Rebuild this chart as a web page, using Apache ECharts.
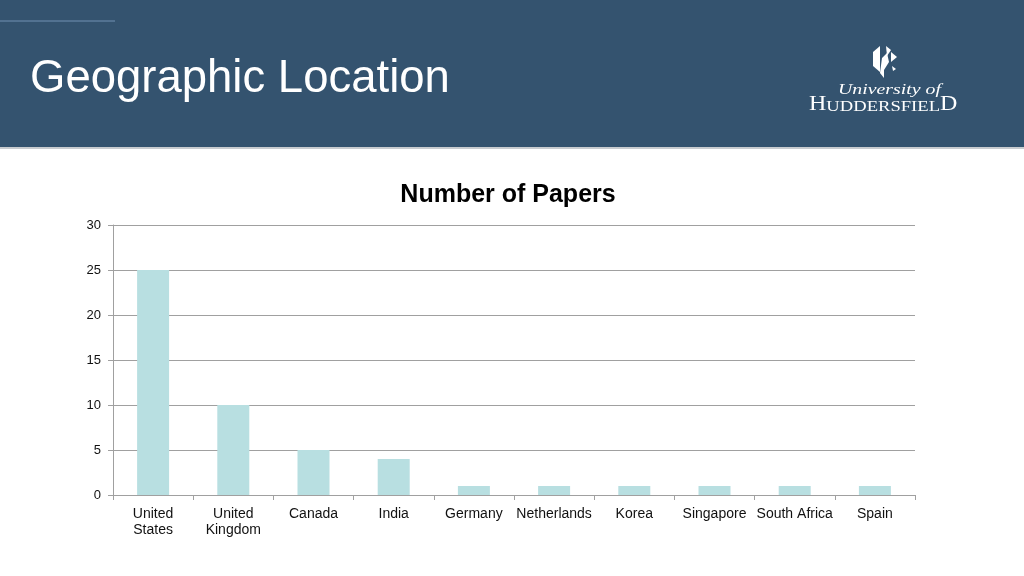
<!DOCTYPE html>
<html><head><meta charset="utf-8">
<script src="https://cdn.jsdelivr.net/npm/echarts@6/dist/echarts.min.js"></script>
<style>html,body{margin:0;padding:0;background:#fff}#c{width:1024px;height:576px}</style>
</head><body><div id="c"></div>
<script>
const categories = ['United\nStates','United\nKingdom','Canada','India','Germany','Netherlands','Korea','Singapore','South Africa','Spain'];
const papers = [25, 10, 5, 4, 1, 1, 1, 1, 1, 1];
const yTicks = [0, 5, 10, 15, 20, 25, 30];

const chart = echarts.init(document.getElementById('c'));
chart.setOption({
  animation: false,
  backgroundColor: '#ffffff',
  textStyle: { fontFamily: 'Liberation Sans, Arial, sans-serif' },
  title: {
    text: 'Number of Papers', left: 503, top: 178, textAlign: 'center',
    textStyle: { fontSize: 25, fontWeight: 'bold', color: '#000', fontFamily: 'Liberation Sans, Arial, sans-serif' }
  },
  graphic: [
    { type: 'rect', shape: { x: 0, y: 0, width: 1024, height: 147 }, style: { fill: '#34536f' }, z: -10 },
    { type: 'rect', shape: { x: 0, y: 147, width: 1024, height: 2 }, style: { fill: '#c8ccd0' }, z: -10 },
    { type: 'line', shape: { x1: 0, y1: 21, x2: 115, y2: 21 }, style: { stroke: '#7191b3', lineWidth: 1 } },
    { type: 'text', left: 30, top: 56, style: { text: 'Geographic Location', fill: '#ffffff', fontSize: 45.5, fontFamily: 'Liberation Sans, Arial, sans-serif' } },
    // logo icon
    { type: 'polygon', shape: { points: [[873,52],[880,46],[880,72],[873,66]] }, style: { fill: '#ffffff' } },
    { type: 'polygon', shape: { points: [[882,58],[887,53],[889,62],[884,70],[884,78],[880,73]] }, style: { fill: '#ffffff' } },
    { type: 'polygon', shape: { points: [[886,46],[891,50],[887,56]] }, style: { fill: '#ffffff' } },
    { type: 'polygon', shape: { points: [[891,52],[897,57],[891,62]] }, style: { fill: '#ffffff' } },
    { type: 'polygon', shape: { points: [[892,66],[896,69],[893,71]] }, style: { fill: '#ffffff' } },
    { type: 'text', x: 838, y: 82, scaleX: 1.28, style: { text: 'University of', fill: '#ffffff', fontSize: 15.5, fontStyle: 'italic', fontFamily: 'Liberation Serif, DejaVu Serif, serif' } },
    { type: 'text', x: 809, y: 95, scaleX: 1.2, style: { rich: { a: { fontSize: 20, fill: '#ffffff', fontFamily: 'Liberation Serif, serif', verticalAlign: 'bottom' }, b: { fontSize: 15.5, fill: '#ffffff', fontFamily: 'Liberation Serif, serif', verticalAlign: 'bottom' } }, text: '{a|H}{b|UDDERSFIEL}{a|D}' } }
  ],
  grid: { left: 113, right: 109, top: 225, bottom: 81, containLabel: false },
  xAxis: {
    type: 'category', data: categories,
    axisLine: { lineStyle: { color: '#a0a0a0', width: 1 } },
    axisTick: { show: true, alignWithLabel: false, length: 5, lineStyle: { color: '#a0a0a0' } },
    axisLabel: { color: '#111', fontSize: 14, margin: 11, lineHeight: 16, interval: 0 },
    splitLine: { show: false }
  },
  yAxis: {
    type: 'value', min: 0, max: 30, interval: 5,
    axisLine: { show: true, lineStyle: { color: '#a0a0a0', width: 1 } },
    axisTick: { show: true, length: 5, lineStyle: { color: '#a0a0a0' } },
    axisLabel: { color: '#111', fontSize: 13, margin: 12,
      formatter: v => yTicks.includes(v) ? String(v) : '' },
    splitLine: { show: true, lineStyle: { color: '#a0a0a0', width: 1 } }
  },
  series: [{
    type: 'bar', data: papers, barWidth: 32,
    itemStyle: { color: '#b8dfe1' }
  }]
});
</script></body></html>
